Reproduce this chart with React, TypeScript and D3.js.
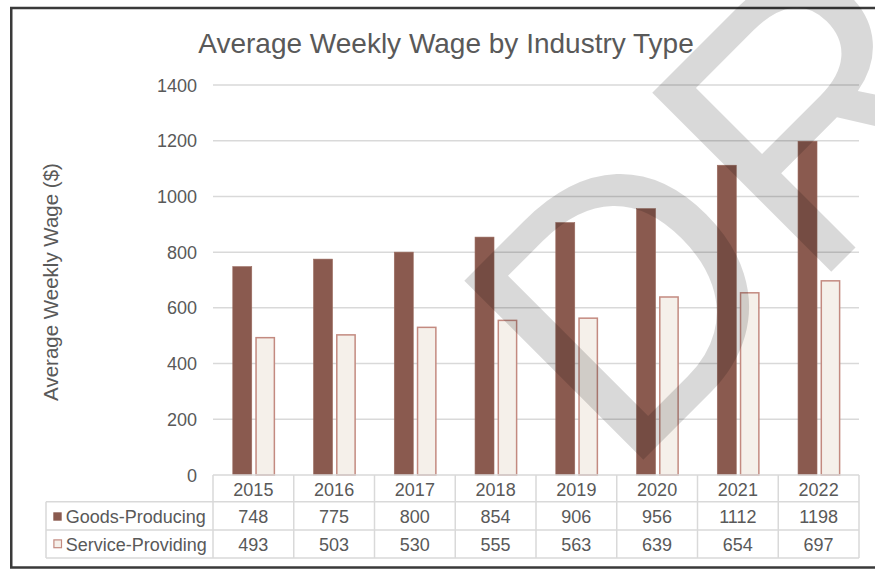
import React from "react";
import * as d3 from "d3";

const years = ["2015", "2016", "2017", "2018", "2019", "2020", "2021", "2022"];
const goodsProducing = [748, 775, 800, 854, 906, 956, 1112, 1198];
const serviceProviding = [493, 503, 530, 555, 563, 639, 654, 697];
const yTicks = [0, 200, 400, 600, 800, 1000, 1200, 1400];
const seriesNames = ["Goods-Producing", "Service-Providing"];

const FONT = "'Liberation Sans', Arial, sans-serif";
const TEXT = "#595959";
const GRID = "#d9d9d9";
const GOODS = "#8a5a4f";
const GOODS_EDGE = "#9a6a5e";
const SERV = "#f5f0ea";
const SERV_EDGE = "#c38a80";

export default function App() {
  const W = 875, H = 570;
  const left = 213, right = 859, top = 85, bottom = 475;
  const x = d3.scaleBand<string>().domain(years).range([left, right]).padding(0);
  const y = d3.scaleLinear().domain([0, 1400]).range([bottom, top]);
  const bw = x.bandwidth();
  const rowLines = [bottom, 501.7, 530, 558];
  const tableLeft = 46;
  const rows = [goodsProducing, serviceProviding];
  const rowBase = [522.7, 551];

  return (
    <svg width={W} height={H} style={{ position: "absolute", left: 0, top: 0 }} fontFamily={FONT}>
      <rect x={0} y={0} width={W} height={H} fill="#fff" />
      <rect x={11.25} y={8} width={880} height={559.5} fill="#fff" stroke="#3a3a3a" strokeWidth={2.5} />
      <text x={446} y={53} textAnchor="middle" fontSize={28} fill={TEXT}>
        Average Weekly Wage by Industry Type
      </text>
      {yTicks.map((t) => (
        <g key={t}>
          {t > 0 && <line x1={left} x2={right} y1={y(t)} y2={y(t)} stroke={GRID} strokeWidth={1.5} />}
          <text x={197} y={y(t) + 6.5} textAnchor="end" fontSize={18} fill={TEXT}>{t}</text>
        </g>
      ))}
      <text transform={`translate(57.5,${282}) rotate(-90)`} textAnchor="middle" fontSize={20.5} fill={TEXT}>
        Average Weekly Wage ($)
      </text>
      {years.map((yr, i) => {
        const x0 = x(yr)!;
        return (
          <g key={yr}>
            <rect x={x0 + bw * 0.245} y={y(goodsProducing[i])} width={bw * 0.235}
              height={y(0) - y(goodsProducing[i])} fill={GOODS} stroke={GOODS_EDGE} strokeWidth={0.6} />
            <rect x={x0 + bw * 0.533} y={y(serviceProviding[i])} width={bw * 0.227}
              height={y(0) - y(serviceProviding[i])} fill={SERV} stroke={SERV_EDGE} strokeWidth={1.5} />
          </g>
        );
      })}
      {rowLines.map((ly, i) => (
        <line key={"h" + i} x1={i === 0 ? left : tableLeft} x2={right} y1={ly} y2={ly} stroke={GRID} strokeWidth={1.5} />
      ))}
      {d3.range(years.length + 1).map((i) => (
        <line key={"v" + i} x1={left + i * bw} x2={left + i * bw} y1={bottom} y2={558} stroke={GRID} strokeWidth={1.5} />
      ))}
      <line x1={tableLeft} x2={tableLeft} y1={501.7} y2={558} stroke={GRID} strokeWidth={1.5} />
      {years.map((yr) => (
        <text key={"yr" + yr} x={x(yr)! + bw / 2} y={495.7} textAnchor="middle" fontSize={18} fill={TEXT}>{yr}</text>
      ))}
      {rows.map((vals, r) => (
        <g key={"row" + r}>
          {vals.map((v, i) => (
            <text key={i} x={x(years[i])! + bw / 2} y={rowBase[r]} textAnchor="middle" fontSize={18} fill={TEXT}>{v}</text>
          ))}
          {r === 0 ? (
            <rect x={53.3} y={rowBase[r] - 10.4} width={8.4} height={8.4} fill={GOODS} />
          ) : (
            <rect x={53.9} y={rowBase[r] - 11.1} width={7.6} height={7.8} fill={SERV} stroke={SERV_EDGE} strokeWidth={1.2} />
          )}
          <text x={65.7} y={rowBase[r]} fontSize={18} fill={TEXT}>{seriesNames[r]}</text>
        </g>
      ))}
      <text transform="translate(622,481) rotate(-45)" fontSize={368} fill="#000" fillOpacity={0.15} fontFamily={FONT}>
        DR
      </text>
    </svg>
  );
}
